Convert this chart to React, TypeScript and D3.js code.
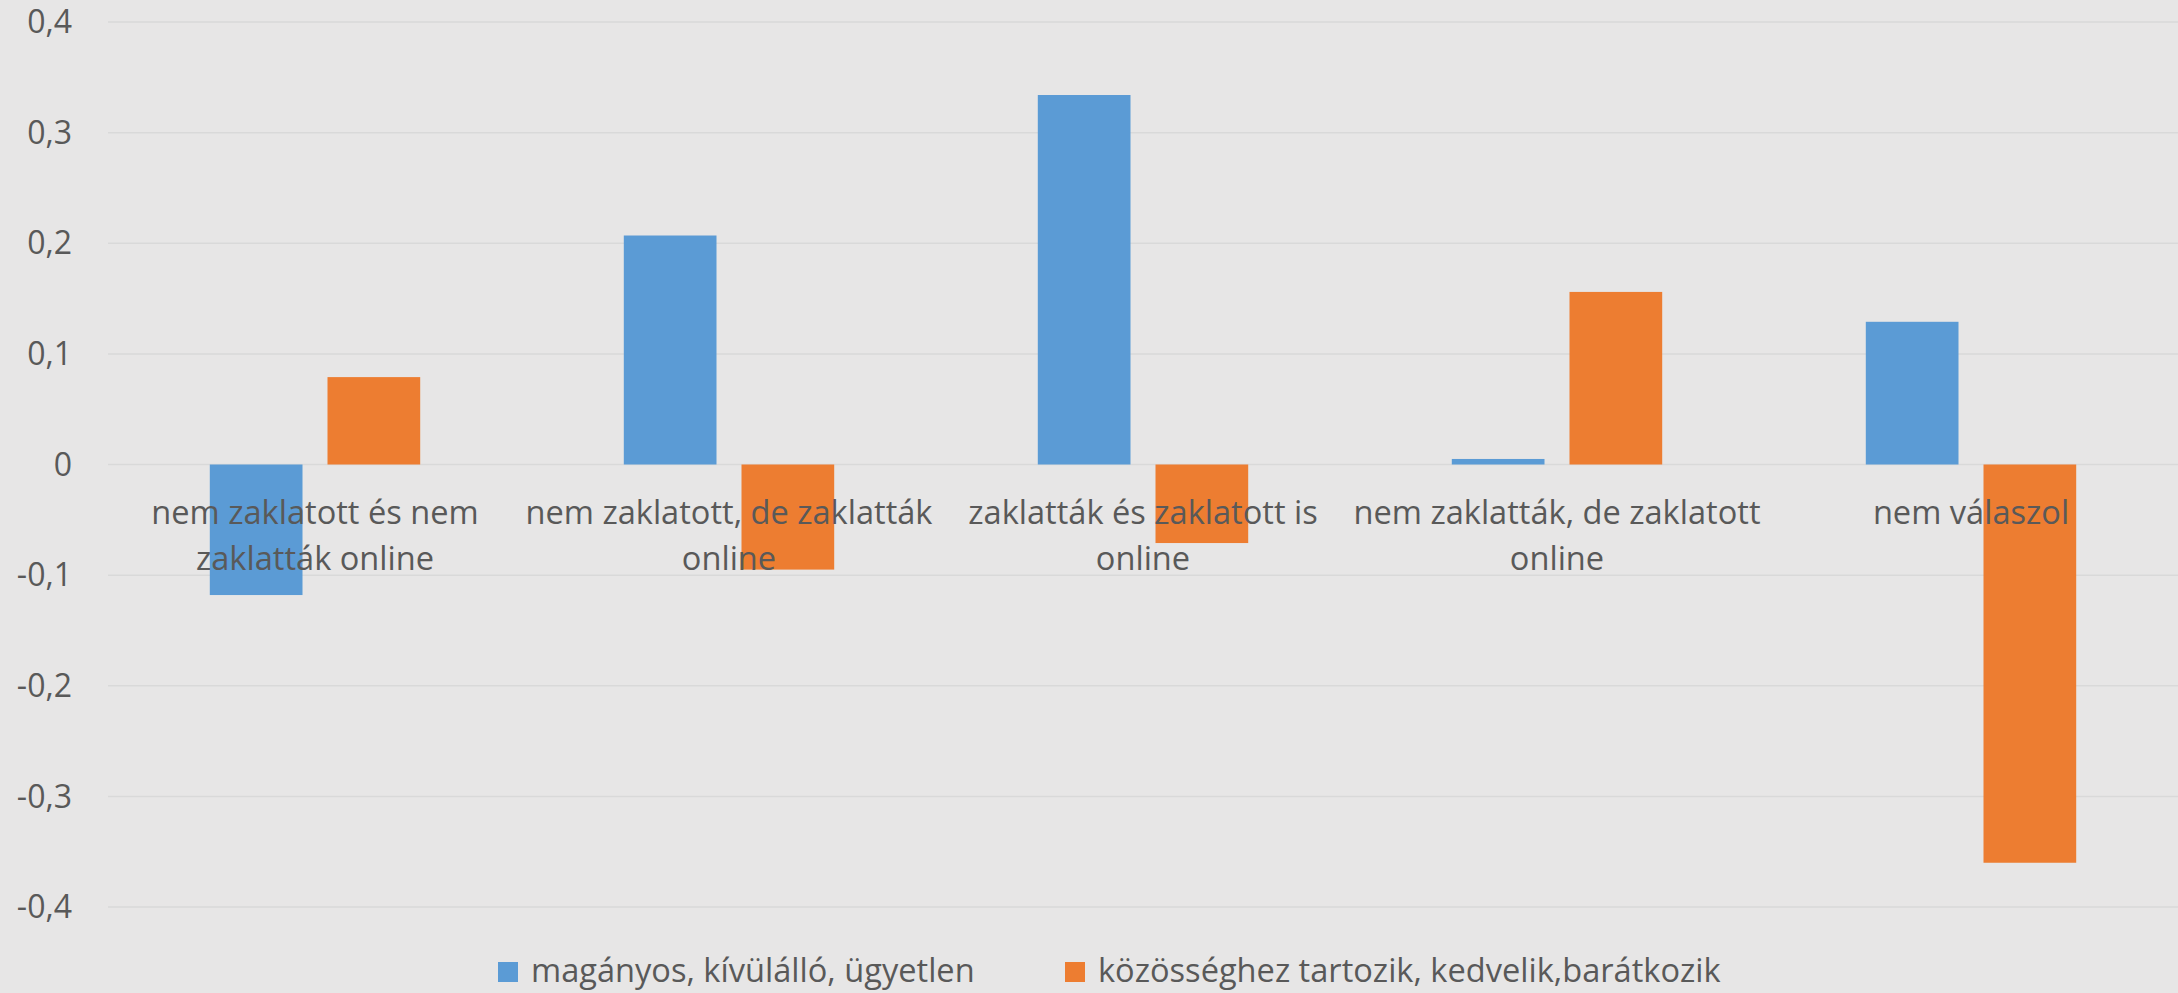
import React from "react";
import * as d3 from "d3";

const categories: string[][] = [
  ["nem zaklatott és nem", "zaklatták online"],
  ["nem zaklatott, de zaklatták", "online"],
  ["zaklatták és zaklatott is", "online"],
  ["nem zaklatták, de zaklatott", "online"],
  ["nem válaszol"],
];
const seriesNames = ["magányos, kívülálló, ügyetlen", "közösséghez tartozik, kedvelik,barátkozik"];
const blueValues = [-0.118, 0.207, 0.334, 0.005, 0.129];
const orangeValues = [0.079, -0.095, -0.071, 0.156, -0.36];
const yTicks = [0.4, 0.3, 0.2, 0.1, 0, -0.1, -0.2, -0.3, -0.4];

const W = 2178;
const H = 993;
const colors = ["#5B9BD5", "#ED7D31"];
const textColor = "#595959";
const font = "'Open Sans', sans-serif";

const locale = d3.formatLocale({ decimal: ",", thousands: " ", grouping: [3], currency: ["", ""], minus: "-" });
const fmt = (v: number) => (v === 0 ? "0" : locale.format(".1f")(v));

export default function App() {
  const left = 108;
  const right = 2178;
  const y = d3.scaleLinear().domain([-0.4, 0.4]).range([907, 22]);
  const x = d3.scaleBand<number>().domain(categories.map((_, i) => i)).range([left, right]);
  const barW = 92.7;
  const gap = 25;
  const series = [blueValues, orangeValues];

  return (
    <svg width={W} height={H} style={{ position: "absolute", top: 0, left: 0, display: "block" }}>
      <rect x={0} y={0} width={W} height={H} fill="#E7E6E6" />
      {yTicks.map((t) => (
        <g key={t}>
          <line x1={left} x2={right} y1={y(t)} y2={y(t)} stroke="#D9D9D9" strokeWidth={1.5} />
          <text x={72} y={y(t)} dy="0.35em" textAnchor="end" fontFamily={font} fontSize={32} fill={textColor}>
            {fmt(t)}
          </text>
        </g>
      ))}
      {series.map((vals, s) =>
        vals.map((v, i) => {
          const cx = (x(i) as number) + x.bandwidth() / 2;
          const bx = s === 0 ? cx - gap / 2 - barW : cx + gap / 2;
          const y0 = y(0);
          const y1 = y(v);
          return (
            <rect
              key={`${s}-${i}`}
              x={bx}
              y={Math.min(y0, y1)}
              width={barW}
              height={Math.abs(y1 - y0)}
              fill={colors[s]}
            />
          );
        })
      )}
      {categories.map((lines, i) => {
        const cx = (x(i) as number) + x.bandwidth() / 2;
        return (
          <text key={i} textAnchor="middle" fontFamily={font} fontSize={32.6} fill={textColor}>
            {lines.map((ln, j) => (
              <tspan key={j} x={cx} y={524 + j * 46}>
                {ln}
              </tspan>
            ))}
          </text>
        );
      })}
      {seriesNames.map((name, s) => {
        const lx = s === 0 ? 498 : 1065;
        return (
          <g key={name}>
            <rect x={lx} y={962} width={20} height={20} fill={colors[s]} />
            <text x={lx + 33} y={982} fontFamily={font} fontSize={32.6} fill={textColor}>
              {name}
            </text>
          </g>
        );
      })}
    </svg>
  );
}
